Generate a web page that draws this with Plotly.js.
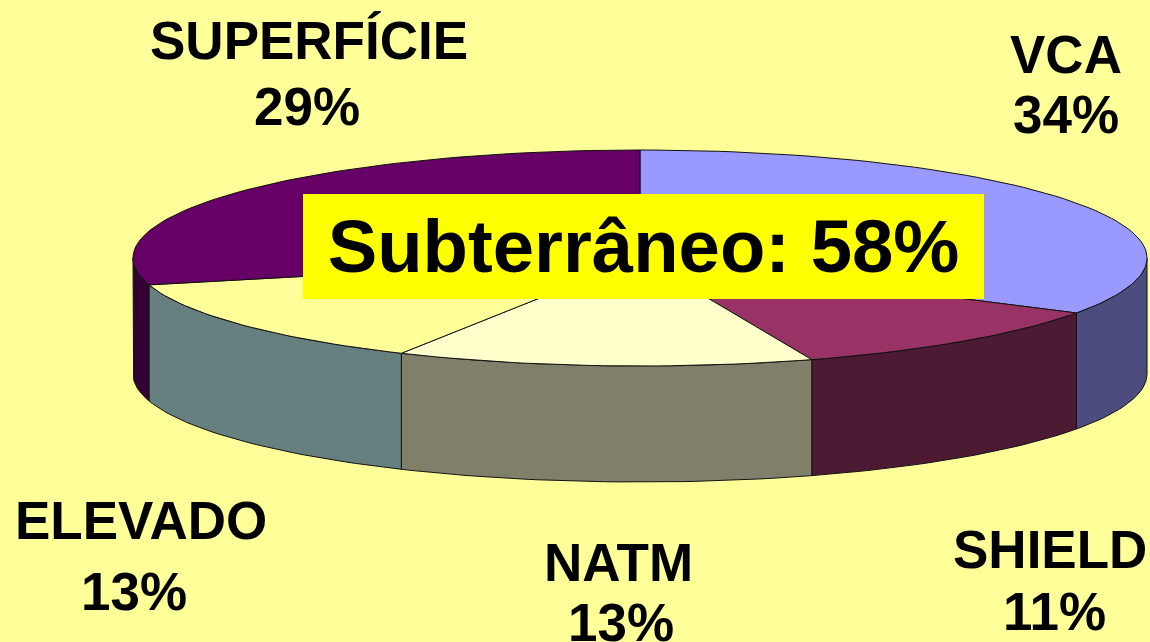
<!DOCTYPE html>
<html>
<head>
<meta charset="utf-8">
<script src="https://cdn.plot.ly/plotly-3.0.1.min.js"></script>
<style>html,body{margin:0;padding:0;background:#ffff99;overflow:hidden}#chart{width:1150px;height:642px}</style>
</head>
<body>
<div id="chart"></div>
<script>
// Data
const categories = ['VCA', 'SHIELD', 'NATM', 'ELEVADO', 'SUPERFÍCIE'];
const shares = [33.5, 11.0, 13.3, 13.2, 29.0];
const topColors = ['#9999ff', '#993366', '#ffffcc', '#ffff99', '#660066'];
const wallColors = ['#4c4c7f', '#4c1a33', '#80806a', '#667f7f', '#330033'];
const calloutText = 'Subterrâneo: 58%';

// Projection of the tilted disc on the plot axes
const cx = 640, cy = 258, rx = 507, ry = 108, depth = 116;
const rad = d => d * Math.PI / 180;
const px = a => cx + rx * Math.sin(rad(a));
const py = a => cy - ry * Math.cos(rad(a));
function arc(a0, a1) {
  const n = Math.max(2, Math.ceil((a1 - a0) / 1.5)), out = [];
  for (let i = 0; i <= n; i++) out.push(a0 + (a1 - a0) * i / n);
  return out;
}

const total = shares.reduce((s, v) => s + v, 0);
let acc = 0;
const spans = shares.map(v => { const a0 = acc / total * 360; acc += v; return [a0, acc / total * 360]; });

const traces = [];
const base = {type: 'scatter', mode: 'lines', fill: 'toself', hoverinfo: 'skip', showlegend: false};
spans.forEach((s, i) => {
  const a0 = Math.max(s[0], 90), a1 = Math.min(s[1], 270);
  if (a1 <= a0) return;
  const as = arc(a0, a1), back = as.slice().reverse();
  traces.push(Object.assign({}, base, {
    name: categories[i] + ' wall',
    x: as.map(px).concat(back.map(px), [px(a0)]),
    y: as.map(py).concat(back.map(a => py(a) + depth), [py(a0)]),
    fillcolor: wallColors[i],
    line: {color: '#111111', width: 1}
  }));
});
spans.forEach((s, i) => {
  const as = arc(s[0], s[1]);
  traces.push(Object.assign({}, base, {
    name: categories[i],
    x: [cx].concat(as.map(px), [cx]),
    y: [cy].concat(as.map(py), [cy]),
    fillcolor: topColors[i],
    line: {color: '#111111', width: 1}
  }));
});

const font = {family: '"Liberation Sans", Arial, sans-serif', size: 53, color: '#000000'};
const labelPos = {
  'VCA': [[1066, 54], [1066, 114]],
  'SHIELD': [[1050, 549], [1054, 611]],
  'NATM': [[618, 562], [621, 622]],
  'ELEVADO': [[141, 520], [134, 591]],
  'SUPERFÍCIE': [[309, 40], [307, 106]]
};
const note = (text, x, y, extra) => Object.assign({
  text: '<b>' + text + '</b>', x, y, xref: 'x', yref: 'y', showarrow: false,
  xanchor: 'center', yanchor: 'middle', font
}, extra || {});
const annotations = [];
categories.forEach((c, i) => {
  annotations.push(note(c, labelPos[c][0][0], labelPos[c][0][1]));
  annotations.push(note(Math.round(shares[i]) + '%', labelPos[c][1][0], labelPos[c][1][1]));
});
annotations.push(note(calloutText, 643.5, 246.5, {
  font: Object.assign({}, font, {size: 74.3}), bgcolor: '#ffff00', width: 681, height: 105, borderpad: 0, borderwidth: 0
}));

Plotly.newPlot('chart', traces, {
  width: 1150, height: 642,
  margin: {l: 0, r: 0, t: 0, b: 0},
  paper_bgcolor: '#ffff99', plot_bgcolor: '#ffff99',
  xaxis: {range: [0, 1150], visible: false, fixedrange: true},
  yaxis: {range: [642, 0], visible: false, fixedrange: true},
  annotations
}, {displayModeBar: false, staticPlot: true});
</script>
</body>
</html>
